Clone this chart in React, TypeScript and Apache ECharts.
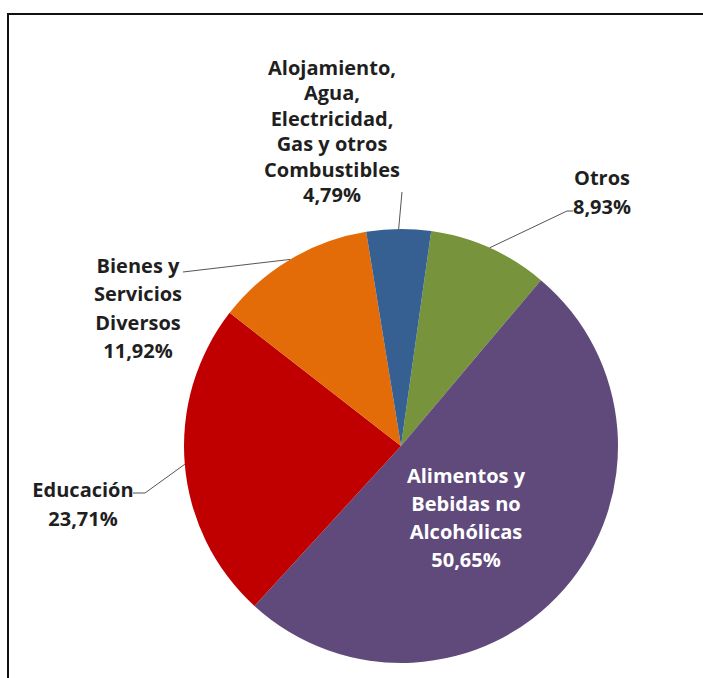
import React, { useEffect, useRef } from "react";
import * as echarts from "echarts";

const categories = [
  "Otros",
  "Alimentos y\nBebidas no\nAlcohólicas",
  "Educación",
  "Bienes y\nServicios\nDiversos",
  "Alojamiento,\nAgua,\nElectricidad,\nGas y otros\nCombustibles",
];
const values = [8.93, 50.65, 23.71, 11.92, 4.79];
const colors = ["#77933C", "#604A7B", "#C00000", "#E36C09", "#376092"];

// label layout (anchor centres, line heights) per slice
const labelPos: [number, number][] = [
  [602, 192],
  [466, 517],
  [83, 504],
  [138, 308],
  [332, 131],
];
const lineHeights = [29, 28, 29, 28.5, 25.5];
const lineBends: [number, number][][] = [
  [[567, 211], [573, 211]],
  [],
  [[145, 493], [133, 493]],
  [[183, 272], [183, 272]],
  [[402, 192], [402, 192]],
];

export default function App() {
  const ref = useRef<HTMLDivElement>(null);
  useEffect(() => {
    if (!ref.current) return;
    const chart = echarts.init(ref.current, undefined, { renderer: "svg" });
    const font = "'Open Sans', Lato, sans-serif";
    chart.setOption({
      animation: false,
      graphic: [
        {
          type: "polyline",
          shape: { points: [[8, 1000], [8, 14], [1000, 14]] },
          style: { fill: "none", stroke: "#111", lineWidth: 2 },
          silent: true,
        },
      ],
      series: [
        {
          type: "pie",
          center: [401, 446],
          radius: 217,
          startAngle: 82,
          clockwise: true,
          avoidLabelOverlap: false,
          itemStyle: { borderWidth: 0 },
          label: {
            fontFamily: font,
            fontWeight: "bold",
            fontSize: 20,
            color: "#1f1f1f",
            align: "center",
            formatter: (p: any) =>
              p.name + "\n" + Number(p.value).toFixed(2).replace(".", ",") + "%",
          },
          labelLine: {
            show: true,
            length: 20,
            length2: 10,
            lineStyle: { color: "#555", width: 1 },
          },
          labelLayout: (params: any) => {
            const i = params.dataIndex;
            const res: any = {
              x: labelPos[i][0],
              y: labelPos[i][1],
              align: "center",
              verticalAlign: "middle",
            };
            const pts = params.labelLinePoints;
            if (pts && pts.length && lineBends[i].length) {
              res.labelLinePoints = [pts[0], ...lineBends[i]];
            }
            return res;
          },
          data: categories.map((c, i) => ({
            name: c,
            value: values[i],
            itemStyle: { color: colors[i] },
            label: {
              position: i === 1 ? "inside" : "outside",
              color: i === 1 ? "#ffffff" : "#1f1f1f",
              lineHeight: lineHeights[i],
            },
            labelLine: { show: i !== 1 },
          })),
        },
      ],
    });
    return () => chart.dispose();
  }, []);
  return (
    <div
      ref={ref}
      style={{ position: "absolute", left: 0, top: 0, width: 703, height: 678 }}
    />
  );
}
